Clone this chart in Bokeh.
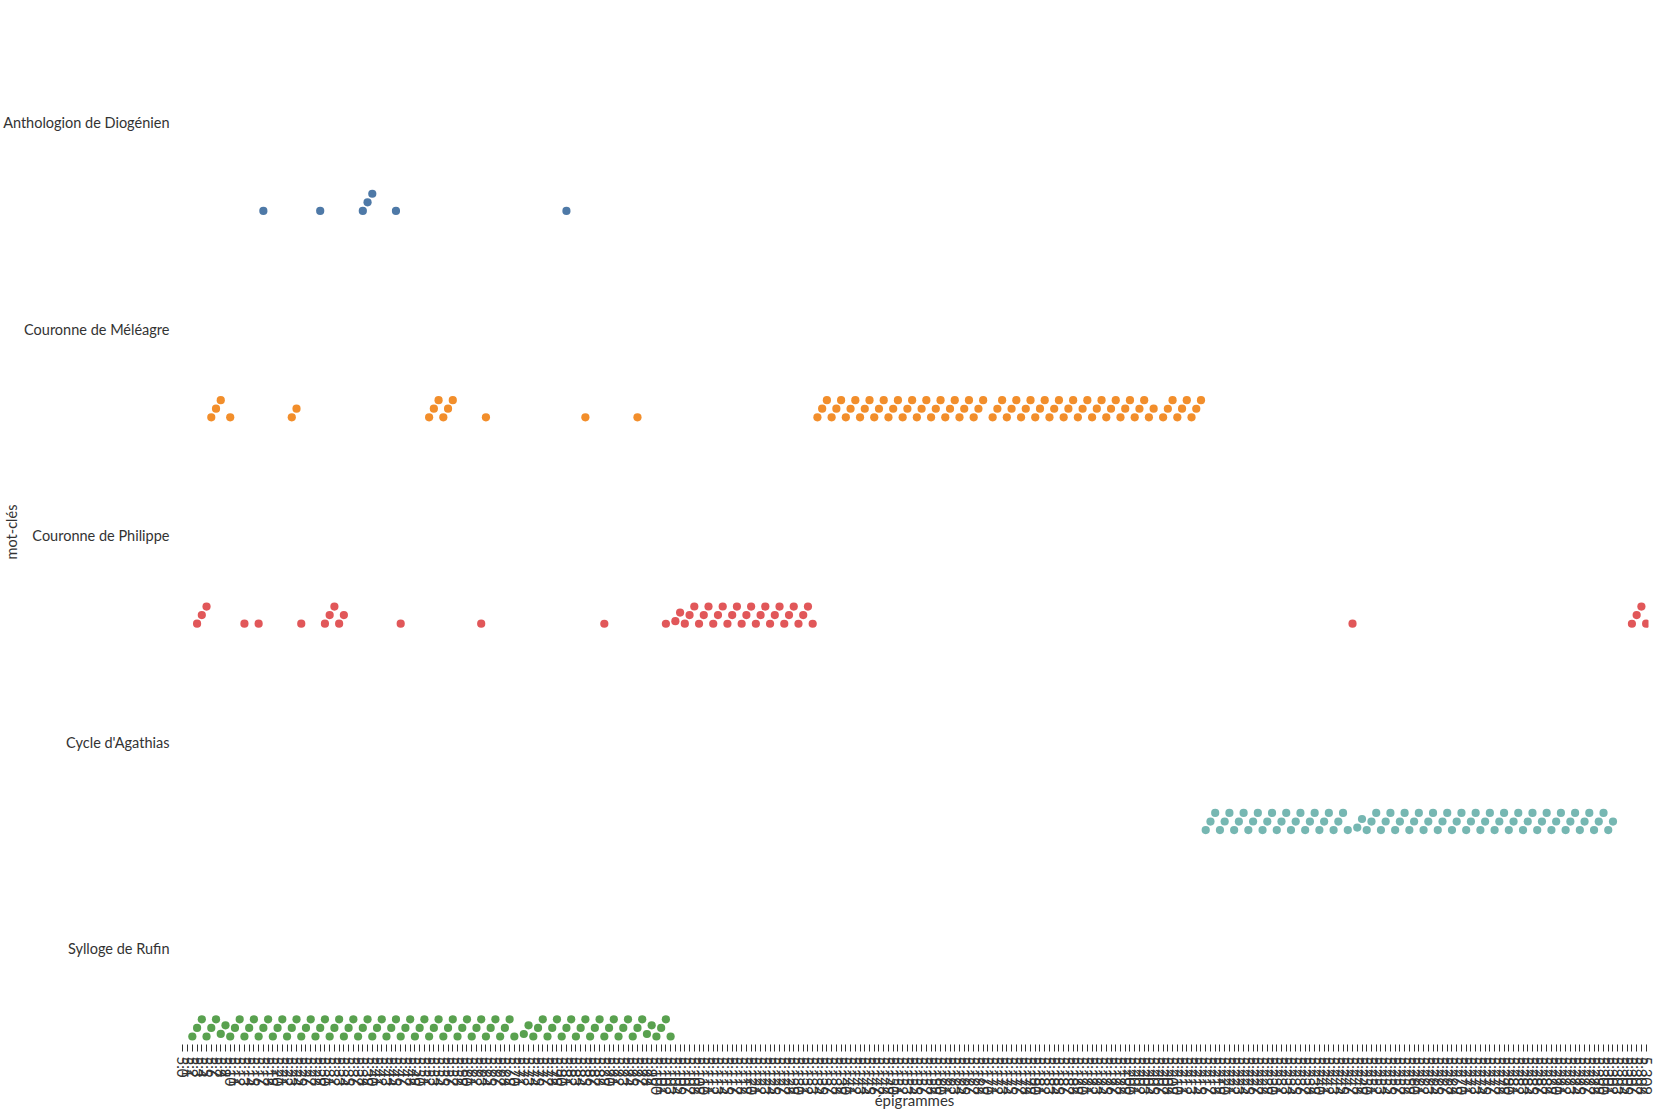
import math
from bokeh.plotting import figure
from bokeh.models import ColumnDataSource, FactorRange, Range1d, FixedTicker
from bokeh.embed import file_html
from bokeh.resources import INLINE

# ---------------- data ----------------
# x categories: epigrams of book 5 (tick labels)
EPIGRAMMES = [f"5.{i}" for i in range(0, 310)]

# y categories, bottom to top
CATEGORIES = ["Sylloge de Rufin", "Cycle d'Agathias", "Couronne de Philippe",
              "Couronne de Méléagre", "Anthologion de Diogénien"]
COLORS = ["#59a14f", "#76b7b2", "#e15759", "#f28e2b", "#4e79a7"]

DIOGENIEN = [17, 29, 38, 39, 40, 45, 81]
MELEAGRE = [6, 7, 8, 10, 23, 24, 52, 53, 54, 55, 56, 57, 64, 85, 96,
            134, 135, 136, 137, 138, 139, 140, 141, 142, 143, 144, 145, 146, 147, 148, 149,
            150, 151, 152, 153, 154, 155, 156, 157, 158, 159, 160, 161, 162, 163, 164, 165,
            166, 167, 168, 169, 171, 172, 173, 174, 175, 176, 177, 178, 179, 180, 181, 182,
            183, 184, 185, 186, 187, 188, 189, 190, 191, 192, 193, 194, 195, 196, 197, 198,
            199, 200, 201, 202, 203, 204, 205, 207, 208, 209, 210, 211, 212, 213, 214, 215]
PHILIPPE = [3, 4, 5, 13, 16, 25, 30, 31, 32, 33, 34, 46, 63, 89, 102,
            104, 105, 106, 107, 108, 109, 110, 111, 112, 113, 114, 115, 116, 117, 118, 119,
            120, 121, 122, 123, 124, 125, 126, 127, 128, 129, 130, 131, 132, 133,
            247, 306, 307, 308, 309]
AGATHIAS = [216, 217, 218, 219, 220, 221, 222, 223, 224, 225, 226, 227, 228, 229, 230,
            231, 232, 233, 234, 235, 236, 237, 238, 239, 240, 241, 242, 243, 244, 245, 246,
            248, 249, 250, 251, 252, 253, 254, 255, 256, 257, 258, 259, 260, 261, 262, 263,
            264, 265, 266, 267, 268, 269, 270, 271, 272, 273, 274, 275, 276, 277, 278, 279,
            280, 281, 282, 283, 284, 285, 286, 287, 288, 289, 290, 291, 292, 293, 294, 295,
            296, 297, 298, 299, 300, 301, 302]
RUFIN = [2, 3, 4, 5, 6, 7, 8, 9, 10, 11, 12, 13, 14, 15, 16, 17, 18, 19, 20, 21, 22, 23,
         24, 25, 26, 27, 28, 29, 30, 31, 32, 33, 34, 35, 36, 37, 38, 39, 40, 41, 42, 43, 44,
         45, 46, 47, 48, 49, 50, 51, 52, 53, 54, 55, 56, 57, 58, 59, 60, 61, 62, 63, 64, 65,
         66, 67, 68, 69, 70, 72, 73, 74, 75, 76, 77, 78, 79, 80, 81, 82, 83, 84, 85, 86, 87,
         88, 89, 90, 91, 92, 93, 94, 95, 96, 97, 98, 99, 100, 101, 102, 103]

SERIES = [RUFIN, AGATHIAS, PHILIPPE, MELEAGRE, DIOGENIEN]

# ---------------- layout ----------------
FW, FH = 1468, 1025
BL, BR, BT, BB = 176, 10, 19, 10
Y_START, Y_END = -0.465, 4.501
DX_PX = FW / len(EPIGRAMMES)
BAND_PX = FH / (Y_END - Y_START)
BASE_PX = 88.0      # bottom row of dots below the category label
D_PX = 9.81         # collision distance of the swarm
DOT = 8.2
FONT = "Lato"
TXT = "#333333"


def dodge(nums):
    """Stack points upward (swarm), placed in the data's string order."""
    labels = sorted(f"5.{n}" for n in nums)
    placed, out = [], {}
    for lab in labels:
        x = EPIGRAMMES.index(lab) * DX_PX
        near = [(xj, yj) for xj, yj in placed if abs(x - xj) < D_PX]
        cands = [0.0]
        for xj, yj in near:
            h = math.sqrt(D_PX * D_PX - (x - xj) ** 2)
            cands += [yj + h, yj - h]
        chosen = 0.0
        for c in sorted(c for c in cands if c >= 0):
            if all((x - xj) ** 2 + (c - yj) ** 2 >= D_PX * D_PX - 1e-6 for xj, yj in near):
                chosen = c
                break
        placed.append((x, chosen))
        out[lab] = chosen
    return out


xs, ys, cs = [], [], []
for ci, (nums, col) in enumerate(zip(SERIES, COLORS)):
    offs = dodge(nums)
    for lab, off in offs.items():
        xs.append(lab)
        ys.append(ci + (-BASE_PX + off) / BAND_PX)
        cs.append(col)

src = ColumnDataSource(data=dict(x=xs, y=ys, color=cs))

p = figure(frame_width=FW, frame_height=FH,
           x_range=FactorRange(factors=EPIGRAMMES, range_padding=0),
           y_range=Range1d(Y_START, Y_END),
           output_backend="svg", toolbar_location=None,
           min_border_left=BL, min_border_right=BR,
           min_border_top=BT, min_border_bottom=BB)
p.outline_line_color = None
p.xgrid.grid_line_color = None
p.ygrid.grid_line_color = None
p.background_fill_color = "white"
p.border_fill_color = "white"

p.scatter(x="x", y="y", fill_color="color", line_color=None, size=DOT, source=src)

xa = p.xaxis[0]
xa.axis_label = "épigrammes"
xa.axis_label_text_font = FONT
xa.axis_label_text_font_style = "normal"
xa.axis_label_text_font_size = "15px"
xa.axis_label_text_color = TXT
xa.axis_label_standoff = -7
xa.major_label_orientation = -math.pi / 2
xa.major_label_text_font = FONT
xa.major_label_text_font_size = "15px"
xa.major_label_text_color = TXT
xa.major_label_standoff = 5
xa.major_tick_out = 7
xa.major_tick_in = 0
xa.major_tick_line_color = "#333333"
xa.axis_line_color = None

ya = p.yaxis[0]
ya.ticker = FixedTicker(ticks=list(range(len(CATEGORIES))))
ya.major_label_overrides = {i: c for i, c in enumerate(CATEGORIES)}
ya.major_label_text_font = FONT
ya.major_label_text_font_size = "14.5px"
ya.major_label_text_color = TXT
ya.major_label_standoff = 11
ya.major_tick_out = 0
ya.major_tick_in = 0
ya.minor_tick_out = 0
ya.minor_tick_in = 0
ya.major_tick_line_color = None
ya.minor_tick_line_color = None
ya.axis_line_color = None
ya.axis_label = "mot-clés"
ya.axis_label_text_font = FONT
ya.axis_label_text_font_style = "normal"
ya.axis_label_text_font_size = "14.5px"
ya.axis_label_text_color = TXT
ya.axis_label_standoff = -20

open("out.html", "w").write(file_html(p, INLINE))
